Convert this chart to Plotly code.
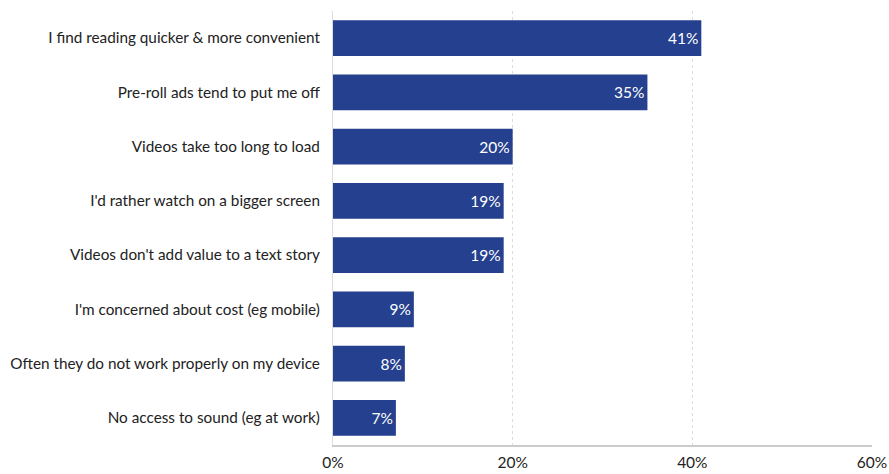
import plotly.graph_objects as go

categories = [
    "I find reading quicker & more convenient",
    "Pre-roll ads tend to put me off",
    "Videos take too long to load",
    "I'd rather watch on a bigger screen",
    "Videos don't add value to a text story",
    "I'm concerned about cost (eg mobile)",
    "Often they do not work properly on my device",
    "No access to sound (eg at work)",
]
values = [41, 35, 20, 19, 19, 9, 8, 7]
labels = [f"{v}%" for v in values]
tick_vals = [0, 20, 40, 60]
tick_text = ["0%", "20%", "40%", "60%"]

fig = go.Figure(go.Bar(
    x=values, y=categories, orientation="h",
    marker=dict(color="#24408E", line=dict(width=0)),
    text=labels, textposition="inside", insidetextanchor="end",
    textfont=dict(color="white", size=15.5, family="Lato"),
    width=0.66,
))

fig.update_layout(
    width=889, height=474,
    margin=dict(l=333, r=17, t=11, b=29),
    paper_bgcolor="white", plot_bgcolor="white",
    showlegend=False,
    font=dict(family="Lato", size=15.3, color="#222222"),
    xaxis=dict(range=[0, 60], tickvals=tick_vals, ticktext=tick_text,
               showgrid=True, gridcolor="#dddddd", griddash="dot", gridwidth=1,
               zeroline=False, showline=True, linecolor="#cccccc", linewidth=2,
               ticks="", ticklabelstandoff=2, automargin=False,
               tickfont=dict(size=15.5, family="Lato", color="#222222")),
    yaxis=dict(autorange="reversed", showgrid=False, showline=True,
               linecolor="#dddddd", linewidth=1, ticks="", ticklabelstandoff=9,
               automargin=False,
               tickfont=dict(size=15.3, family="Lato", color="#222222")),
)

fig.write_html("out.html")
